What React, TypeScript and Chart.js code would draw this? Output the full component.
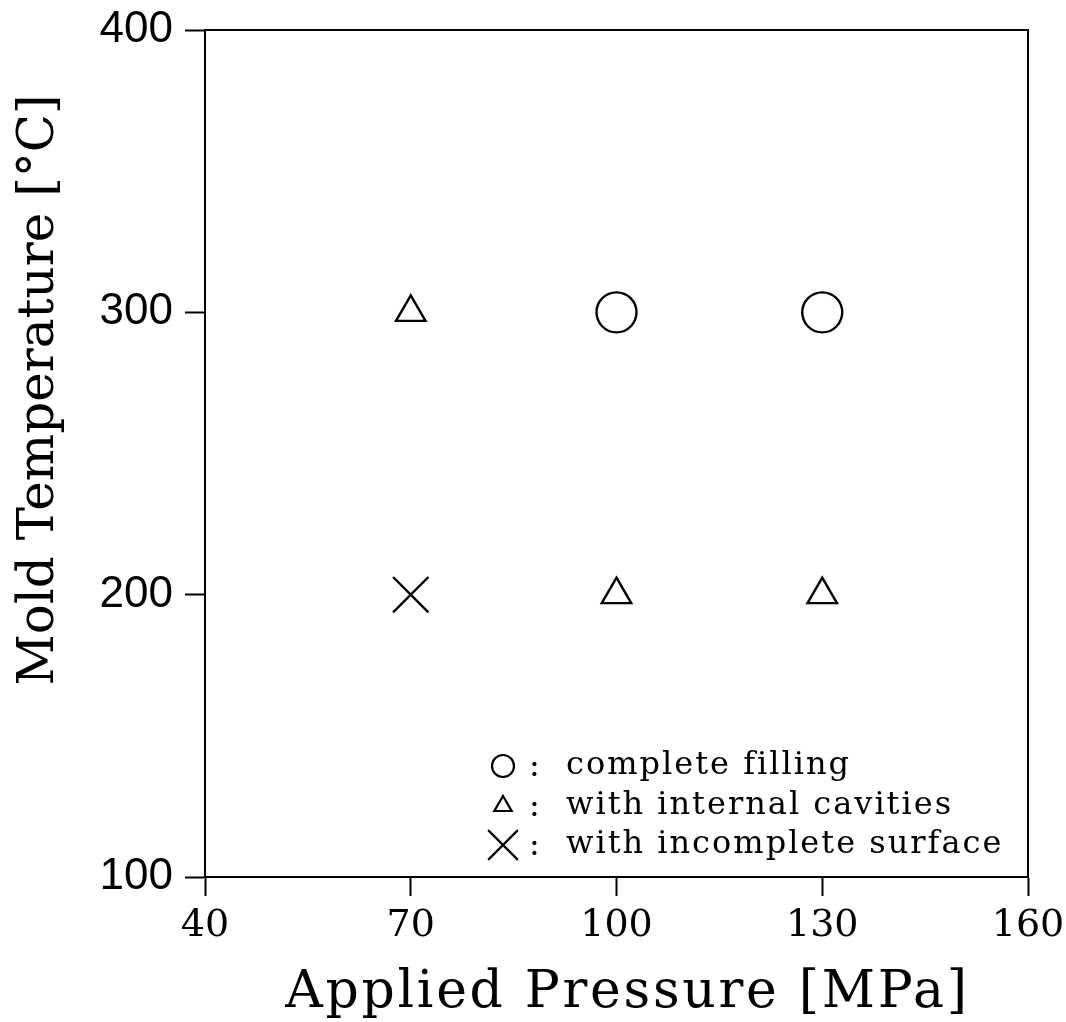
import { useEffect, useRef } from 'react';
import { Chart, registerables } from 'chart.js';

Chart.register(...registerables);

// ---- data ----
const xTicks = [40, 70, 100, 130, 160];
const yTicks = [100, 200, 300, 400];
const completeX = [100, 130];
const completeY = [300, 300];
const cavityX = [70, 100, 130];
const cavityY = [300, 200, 200];
const surfaceX = [70];
const surfaceY = [200];
const seriesLabels = ['complete filling', 'with internal cavities', 'with incomplete surface'];
const seriesStyles = ['circle', 'triangle', 'crossRot'];
const xTitle = 'Applied Pressure [MPa]';
const yTitle = 'Mold Temperature [°C]';

const FONT = '"DejaVu Serif", serif';
const SANS = '"Liberation Sans", Arial, sans-serif';

function toPoints(xs: number[], ys: number[]) {
  return xs.map((x, i) => ({ x, y: ys[i] }));
}

function drawSymbol(ctx: CanvasRenderingContext2D, style: string, x: number, y: number, r: number) {
  ctx.beginPath();
  if (style === 'circle') {
    ctx.arc(x, y, r, 0, Math.PI * 2);
  } else if (style === 'triangle') {
    const h = r * 1.5;
    const w = r * Math.sqrt(3);
    ctx.moveTo(x, y - h * 2 / 3);
    ctx.lineTo(x + w / 2, y + h / 3);
    ctx.lineTo(x - w / 2, y + h / 3);
    ctx.closePath();
  } else {
    const d = r * Math.SQRT1_2;
    ctx.moveTo(x - d, y - d);
    ctx.lineTo(x + d, y + d);
    ctx.moveTo(x + d, y - d);
    ctx.lineTo(x - d, y + d);
  }
  ctx.stroke();
}

const decorPlugin = {
  id: 'decor',
  afterDraw(chart: any) {
    const { ctx, chartArea } = chart;
    const { left, right, top, bottom } = chartArea;
    ctx.save();
    ctx.strokeStyle = '#000';
    ctx.lineWidth = 2;
    ctx.beginPath();
    ctx.moveTo(left, top);
    ctx.lineTo(right, top);
    ctx.lineTo(right, bottom);
    ctx.stroke();

    ctx.fillStyle = '#000';
    // x title
    ctx.font = `52px ${FONT}`;
    (ctx as any).letterSpacing = '2.7px';
    ctx.textAlign = 'center';
    ctx.textBaseline = 'alphabetic';
    ctx.fillText(xTitle, (left + right) / 2 + 11, bottom + 130);
    // y title
    (ctx as any).letterSpacing = '0px';
    ctx.font = `50px ${FONT}`;
    ctx.save();
    ctx.translate(left - 152, top + 360);
    ctx.rotate(-Math.PI / 2);
    ctx.fillText(yTitle, 0, 0);
    ctx.restore();

    // legend
    const rows = [766, 806, 845];
    const symR = [11, 10, 21];
    ctx.lineWidth = 2.2;
    ctx.font = `32px ${FONT}`;
    (ctx as any).letterSpacing = '2px';
    ctx.textAlign = 'left';
    ctx.textBaseline = 'middle';
    seriesLabels.forEach((lab, i) => {
      const y = rows[i];
      drawSymbol(ctx, seriesStyles[i], left + 298, y, symR[i]);
      ctx.fillText(':', left + 324, y + 2);
      ctx.fillText(lab, left + 361, y);
    });
    ctx.restore();
  },
};

export default function App() {
  const ref = useRef<HTMLCanvasElement | null>(null);
  useEffect(() => {
    document.body.style.margin = '0';
    const canvas = ref.current!;
    const chart = new Chart(canvas, {
      type: 'scatter',
      data: {
        datasets: [
          {
            label: seriesLabels[0],
            data: toPoints(completeX, completeY),
            pointStyle: 'circle',
            pointRadius: 20,
            borderColor: '#000',
            backgroundColor: 'rgba(0,0,0,0)',
            borderWidth: 2.4,
          },
          {
            label: seriesLabels[1],
            data: toPoints(cavityX, cavityY),
            pointStyle: 'triangle',
            pointRadius: 17,
            borderColor: '#000',
            backgroundColor: 'rgba(0,0,0,0)',
            borderWidth: 2.4,
          },
          {
            label: seriesLabels[2],
            data: toPoints(surfaceX, surfaceY),
            pointStyle: 'crossRot',
            pointRadius: 25,
            borderColor: '#000',
            backgroundColor: 'rgba(0,0,0,0)',
            borderWidth: 2.4,
          },
        ],
      },
      plugins: [decorPlugin],
      options: {
        responsive: false,
        animation: false,
        events: [],
        layout: { padding: { left: 0, top: 30, right: 38, bottom: 0 } },
        plugins: {
          legend: { display: false },
          tooltip: { enabled: false },
          title: { display: false },
        },
        scales: {
          x: {
            type: 'linear',
            min: 40,
            max: 160,
            afterBuildTicks: (s: any) => {
              s.ticks = xTicks.map((v) => ({ value: v }));
            },
            afterFit: (s: any) => {
              s.height = 145;
              s.paddingLeft = 0;
              s.paddingRight = 0;
            },
            grid: { drawOnChartArea: false, tickLength: 19, tickColor: '#000', tickWidth: 2 },
            border: { display: true, color: '#000', width: 2 },
            ticks: { color: '#000', font: { family: FONT, size: 38 }, padding: 7, maxRotation: 0 },
          },
          y: {
            type: 'linear',
            min: 100,
            max: 400,
            afterBuildTicks: (s: any) => {
              s.ticks = yTicks.map((v) => ({ value: v }));
            },
            afterFit: (s: any) => {
              s.width = 205;
              s.paddingTop = 0;
              s.paddingBottom = 0;
            },
            grid: { drawOnChartArea: false, tickLength: 20, tickColor: '#000', tickWidth: 2 },
            border: { display: true, color: '#000', width: 2 },
            ticks: { color: '#000', font: { family: SANS, size: 44 }, padding: 12 },
          },
        },
      },
    } as any);
    return () => chart.destroy();
  }, []);
  return <canvas ref={ref} width={1066} height={1022} style={{ display: 'block' }} />;
}
